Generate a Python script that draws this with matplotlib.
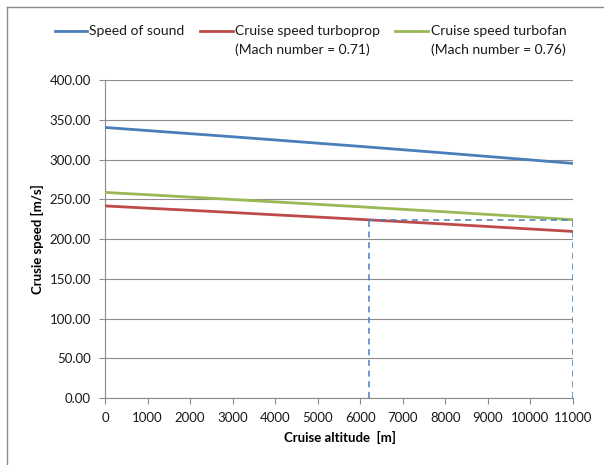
import matplotlib
matplotlib.use("Agg")
import matplotlib.pyplot as plt
from matplotlib.lines import Line2D
from matplotlib.ticker import FormatStrFormatter, MultipleLocator

plt.rcParams['font.family'] = ['Lato', 'DejaVu Sans']

# Cruise altitude [m]
altitude = [0, 1000, 2000, 3000, 4000, 5000, 6000, 7000, 8000, 9000, 10000, 11000]
# Speed of sound [m/s]
speed_of_sound = [340.3, 336.4, 332.5, 328.6, 324.6, 320.5, 316.5, 312.3, 308.1, 303.8, 299.5, 295.1]
# Cruise speed turboprop, Mach 0.71 [m/s]
turboprop = [241.6, 238.8, 236.1, 233.3, 230.4, 227.6, 224.7, 221.7, 218.8, 215.7, 212.6, 209.5]
# Cruise speed turbofan, Mach 0.76 [m/s]
turbofan = [258.6, 255.7, 252.7, 249.7, 246.7, 243.6, 240.5, 237.3, 234.2, 230.9, 227.6, 224.3]

# Guide: altitude range where the turboprop flies as fast as the turbofan at 11000 m
guide_altitude = [6200, 11000]
guide_speed = 224.3

series_labels = ["Speed of sound",
                 "Cruise speed turboprop\n(Mach number = 0.71)",
                 "Cruise speed turbofan\n(Mach number = 0.76)"]
colors = ["#4A7EBB", "#BE4B48", "#98B954"]

W, H = 604, 465
fig = plt.figure(figsize=(W / 100, H / 100), dpi=100)
ax = fig.add_axes([105 / W, 1 - 398 / H, 468 / W, 318 / H])

for y, c in zip([speed_of_sound, turboprop, turbofan], colors):
    ax.plot(altitude, y, color=c, lw=2.0, solid_capstyle='butt', zorder=3)

dash = dict(color="#4A7EBB", lw=1.1, ls=(0, (4, 3)), zorder=4)
ax.plot([guide_altitude[0], guide_altitude[0]], [0, guide_speed], **dash)
ax.plot(guide_altitude, [guide_speed, guide_speed], **dash)
ax.plot([guide_altitude[1], guide_altitude[1]], [0, guide_speed], **dash)

ax.set_xlim(0, 11000)
ax.set_ylim(0, 400)
ax.xaxis.set_major_locator(MultipleLocator(1000))
ax.yaxis.set_major_locator(MultipleLocator(50))
ax.yaxis.set_major_formatter(FormatStrFormatter('%.2f'))
ax.grid(axis='y', color='#8C8C8C', lw=0.8, zorder=0)
ax.set_axisbelow(True)
for s in ['top', 'right']:
    ax.spines[s].set_visible(False)
for s in ['left', 'bottom']:
    ax.spines[s].set_color('#8C8C8C')
    ax.spines[s].set_linewidth(0.8)
ax.tick_params(axis='both', colors='#8C8C8C', labelcolor='#1A1A1A',
               labelsize=9.5, length=4, width=0.8, direction='out')
ax.tick_params(axis='x', pad=6)
ax.tick_params(axis='y', pad=6)

ax.set_xlabel("Cruise altitude  [m]", fontsize=9.5, fontweight='bold')
ax.set_ylabel("Crusie speed [m/s]", fontsize=9.5, fontweight='bold')
ax.xaxis.set_label_coords((340 - 105) / 468, -(437 - 398) / 318)
ax.yaxis.set_label_coords(-(105 - 37) / 468, 0.5)
ax.xaxis.label.set_va('center')
ax.yaxis.label.set_va('center')

# Legend row above the plot
legend_items = [(55, 87, 89), (200, 233, 235), (395, 428, 431)]
for (x0, x1, xt), lab, c in zip(legend_items, series_labels, colors):
    fig.add_artist(Line2D([x0 / W, x1 / W], [1 - 31 / H, 1 - 31 / H], color=c, lw=2.0,
                          transform=fig.transFigure))
    for i, line in enumerate(lab.split("\n")):
        fig.text(xt / W, 1 - (31 + 19 * i) / H, line, fontsize=10, va='center',
                 ha='left', color='#1A1A1A')

# Chart frame
fig.add_artist(Line2D([7 / W, 7 / W], [0, 1 - 7 / H], color='#8C8C8C', lw=1.0,
                      transform=fig.transFigure))
fig.add_artist(Line2D([7 / W, 1], [1 - 7 / H, 1 - 7 / H], color='#8C8C8C', lw=1.0,
                      transform=fig.transFigure))

fig.savefig("out.png", dpi=100)
